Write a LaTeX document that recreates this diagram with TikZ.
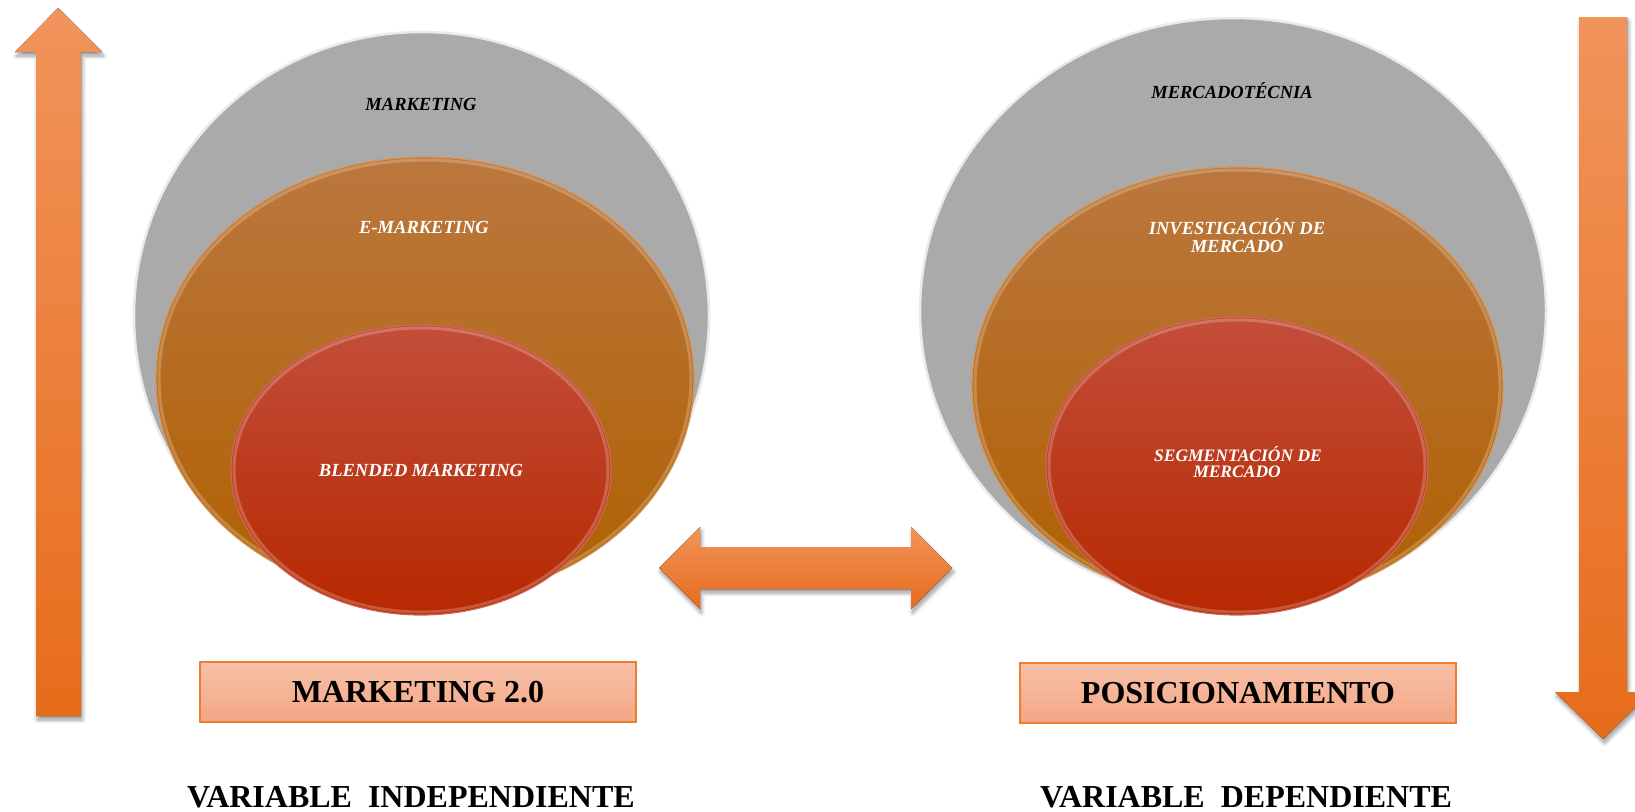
\documentclass[tikz,border=0pt]{standalone}
\usepackage{fontspec}
\setmainfont{Liberation Serif}
\usetikzlibrary{shapes.geometric,shadows,shadows.blur}

\definecolor{discGray}{RGB}{170,170,170}
\definecolor{rimGray}{RGB}{232,235,238}
\definecolor{orTop}{RGB}{187,119,62}
\definecolor{orBot}{RGB}{176,96,0}
\definecolor{orRim}{RGB}{214,150,84}
\definecolor{rdTop}{RGB}{195,78,58}
\definecolor{rdBot}{RGB}{182,40,0}
\definecolor{rdRim}{RGB}{205,105,88}
\definecolor{arTop}{RGB}{241,148,92}
\definecolor{arBot}{RGB}{231,108,26}
\definecolor{bxTop}{RGB}{247,193,168}
\definecolor{bxBot}{RGB}{244,166,132}
\definecolor{bxEdge}{RGB}{237,125,49}

\begin{document}
\begin{tikzpicture}[x=1pt,y=-1pt,
  disc/.style={ellipse, inner sep=0pt, line width=1.2pt},
  greydisc/.style={disc, fill=discGray, draw=rimGray, line width=2.5pt},
  browndisc/.style={disc, top color=orTop, bottom color=orBot, draw=orRim},
  reddisc/.style={disc, top color=rdTop, bottom color=rdBot, draw=rdRim},
  gloss/.style={ellipse, inner sep=0pt, draw=white, draw opacity=.22, line width=3pt},
  arrowbody/.style={top color=arTop, bottom color=arBot,
    blur shadow={shadow xshift=1.5pt, shadow yshift=-4pt, shadow blur steps=8,
      shadow blur radius=4pt, shadow opacity=40}},
  varbox/.style={rectangle, minimum width=436pt, minimum height=60pt, inner sep=0pt,
    top color=bxTop, bottom color=bxBot, draw=bxEdge, line width=1.5pt,
    font=\fontsize{32}{36}\selectfont\bfseries},
  varcaption/.style={anchor=base, inner sep=0pt, font=\fontsize{32}{36}\selectfont\bfseries},
  disclabel/.style={anchor=base, inner sep=0pt, font=\fontsize{18.5}{18.5}\selectfont\bfseries\itshape},
  smalllabel/.style={disclabel, font=\fontsize{17.5}{17.5}\selectfont\bfseries\itshape},
]
\useasboundingbox (0,0) rectangle (1635,811);

% vertical arrows at the sides
\fill[arrowbody] (58,8) -- (102,52) -- (81,52) -- (81,716) -- (36,716) -- (36,52) -- (15,52) -- cycle;
\fill[arrowbody] (1579,17) -- (1627,17) -- (1627,692) -- (1651,692) -- (1603,739) -- (1555,692) -- (1579,692) -- cycle;

% nested discs, left group
\node[greydisc, minimum width=575pt, minimum height=568pt] (outerL) at (421.5,316) {};
\node[browndisc, minimum width=538pt, minimum height=444pt] (midL) at (425,379) {};
\node[gloss, minimum width=532pt, minimum height=438pt] (midLgl) at (425,379) {};
\node[reddisc, minimum width=380pt, minimum height=290pt] (innerL) at (421,470) {};
\node[gloss, minimum width=374pt, minimum height=284pt] (innerLgl) at (421,470) {};

% nested discs, right group
\node[greydisc, minimum width=626pt, minimum height=586pt] (outerR) at (1233,311) {};
\node[browndisc, minimum width=531pt, minimum height=438pt] (midR) at (1237.5,386) {};
\node[gloss, minimum width=525pt, minimum height=432pt] (midRgl) at (1237.5,386) {};
\node[reddisc, minimum width=382pt, minimum height=298pt] (innerR) at (1237,466) {};
\node[gloss, minimum width=376pt, minimum height=292pt] (innerRgl) at (1237,466) {};

% disc labels
\node[disclabel] (tMkt) at (421,110) {MARKETING};
\node[disclabel, text=white] (tEmkt) at (424,233) {E-MARKETING};
\node[disclabel, text=white] (tBlend) at (421,476) {BLENDED MARKETING};
\node[disclabel] (tMerc) at (1232,98) {MERCADOTÉCNIA};
\node[disclabel, text=white] (tInvA) at (1237,234) {INVESTIGACIÓN DE};
\node[disclabel, text=white] (tInvB) at (1237,252) {MERCADO};
\node[smalllabel, text=white] (tSegA) at (1238,461) {SEGMENTACIÓN DE};
\node[smalllabel, text=white] (tSegB) at (1237,477) {MERCADO};

% two-way arrow between the groups
\fill[arrowbody] (659,568) -- (700,527) -- (700,547) -- (911,547) -- (911,527) -- (952,568)
  -- (911,609) -- (911,589) -- (700,589) -- (700,609) -- cycle;

% variable boxes and captions
\node[varbox] (boxL) at (418,692) {MARKETING 2.0};
\node[varbox] (boxR) at (1238,693) {POSICIONAMIENTO};
\node[varcaption] (capL) at (411,807) {VARIABLE\ \ INDEPENDIENTE};
\node[varcaption] (capR) at (1246,807) {VARIABLE\ \ DEPENDIENTE};
\end{tikzpicture}
\end{document}
